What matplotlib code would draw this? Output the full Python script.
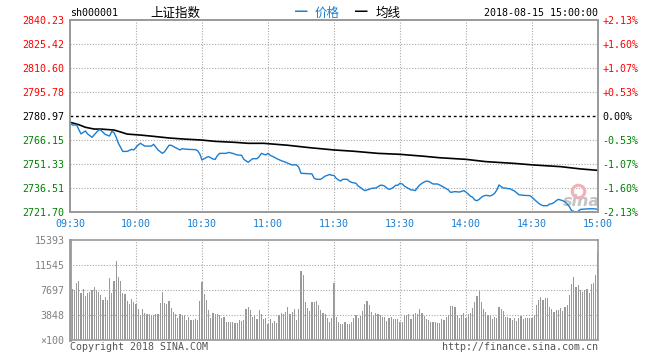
import numpy as np
import matplotlib
matplotlib.use('Agg')
import matplotlib.pyplot as plt

W, H = 660, 360

# axis labels
price_ticks = [2721.70, 2736.51, 2751.33, 2766.15, 2780.97, 2795.78, 2810.60, 2825.42, 2840.23]
pct_labels = ['-2.13%', '-1.60%', '-1.07%', '-0.53%', '0.00%', '+0.53%', '+1.07%', '+1.60%', '+2.13%']
prev_close = 2780.97
time_ticks = [0, 30, 60, 90, 120, 150, 180, 210, 240]
time_labels = ['09:30', '10:00', '10:30', '11:00', '11:30', '13:30', '14:00', '14:30', '15:00']
vol_ticks = [0, 3848, 7697, 11545, 15393]
vol_labels = ['×100', '3848', '7697', '11545', '15393']

# price line (minute index from 09:30, price)
price_min = [0, 1, 3, 5, 7, 8, 10, 13, 14, 16, 18, 19, 20, 21, 22, 23, 24, 26, 28, 29,
             31, 32, 34, 37, 38, 40, 42, 43, 45, 46, 48, 50, 51, 53, 57, 58, 59, 60, 62, 63,
             65, 66, 67, 68, 71, 72, 74, 76, 78, 79, 81, 83, 85, 86, 87, 89, 90, 91, 93, 94,
             96, 98, 100, 101, 102, 103, 104, 105, 110, 111, 112, 114, 115, 116, 117, 118, 119, 120, 121, 122,
             123, 124, 126, 127, 128, 130, 131, 132, 133, 134, 136, 137, 139, 140, 141, 142, 143, 144, 145, 146,
             147, 148, 149, 150, 151, 152, 153, 154, 155, 156, 157, 158, 159, 160, 161, 162, 163, 164, 165, 167,
             168, 169, 170, 171, 172, 173, 175, 177, 179, 180, 181, 182, 183, 184, 185, 186, 187, 188, 189, 191,
             192, 193, 194, 195, 196, 197, 198, 199, 200, 201, 202, 203, 204, 206, 209, 210, 211, 212, 213, 214,
             215, 217, 218, 219, 220, 221, 222, 223, 224, 225, 226, 227, 228, 229, 230, 231, 232, 234, 236, 238,
             239, 240]
price_val = [2777.3, 2775.4, 2775.4, 2769.9, 2771.7, 2769.9, 2767.8, 2772.3, 2772.3, 2769.6, 2768.6, 2771.5, 2770.7, 2767.8, 2764.1, 2761.6, 2759.1, 2759.1, 2760.4, 2760.0,
             2763.1, 2764.1, 2762.4, 2762.4, 2763.5, 2760.0, 2757.9, 2758.9, 2762.9, 2762.9, 2761.4, 2760.0, 2760.8, 2760.4, 2760.2, 2759.6, 2757.5, 2753.8, 2755.4, 2755.9,
             2754.4, 2754.2, 2756.5, 2757.9, 2757.9, 2758.5, 2757.9, 2756.9, 2756.7, 2754.2, 2752.4, 2754.6, 2754.6, 2755.9, 2757.9, 2756.9, 2757.9, 2756.7, 2755.4, 2754.6,
             2753.4, 2752.4, 2751.3, 2750.7, 2750.9, 2750.7, 2749.3, 2745.6, 2745.2, 2742.5, 2741.9, 2741.9, 2742.9, 2743.9, 2744.3, 2744.9, 2744.3, 2744.3, 2742.5, 2741.5,
             2740.8, 2741.9, 2741.9, 2740.6, 2740.0, 2739.4, 2737.7, 2736.9, 2735.7, 2734.9, 2735.7, 2736.3, 2736.5, 2737.3, 2738.2, 2738.2, 2737.7, 2736.5, 2735.7, 2736.1,
             2736.9, 2738.2, 2738.2, 2739.4, 2739.0, 2737.7, 2736.9, 2736.1, 2735.3, 2735.3, 2734.9, 2736.9, 2738.4, 2739.4, 2740.2, 2740.8, 2740.6, 2739.8, 2739.0, 2739.0,
             2738.4, 2737.7, 2736.9, 2736.1, 2735.3, 2733.8, 2734.3, 2734.0, 2734.9, 2734.0, 2732.8, 2731.5, 2730.8, 2729.1, 2728.7, 2729.5, 2730.8, 2731.6, 2732.0, 2731.6,
             2732.2, 2733.2, 2735.3, 2738.4, 2737.3, 2736.5, 2736.5, 2736.1, 2736.1, 2735.3, 2734.7, 2733.6, 2732.4, 2732.0, 2731.8, 2730.8, 2729.5, 2728.3, 2727.1, 2726.2,
             2725.6, 2725.6, 2726.6, 2726.8, 2727.5, 2728.7, 2729.5, 2729.1, 2728.7, 2727.9, 2726.6, 2725.0, 2722.5, 2722.1, 2721.7, 2722.1, 2723.3, 2723.5, 2723.7, 2723.7,
             2723.5, 2723.3]

# average line
avg_min = [0, 4, 7, 11, 14, 20, 23, 26, 32, 38, 45, 51, 60, 66, 75, 81, 88, 99, 109, 120,
           129, 140, 150, 161, 168, 180, 189, 202, 211, 223, 232, 240]
avg_val = [2777.1, 2775.6, 2774.0, 2772.9, 2772.9, 2772.3, 2771.1, 2769.8, 2769.2, 2768.4, 2767.4, 2766.8, 2766.1, 2765.3, 2764.7, 2764.1, 2764.1, 2762.9, 2761.4, 2760.0,
           2759.2, 2757.9, 2757.3, 2756.1, 2755.2, 2754.2, 2752.8, 2751.7, 2750.7, 2749.7, 2748.3, 2747.4]

# volume per minute (x100)
volume = [9030, 7900, 7695, 8820, 9130, 7280, 7900, 6820, 7280, 7440, 7695, 8210, 7695, 7440, 6870, 6200,
          6670, 6200, 9590, 7180, 9130, 12210, 9750, 9030, 7280, 7030, 6050, 5590, 6360, 5900, 5590,
          4720, 3850, 4820, 4210, 3950, 4050, 3850, 3850, 4050, 4050, 5750, 7440, 5750, 5590, 6050,
          4980, 4360, 3950, 3440, 4050, 3850, 3850, 3130, 3590, 3130, 3130, 3230, 3130, 6050, 8980,
          7130, 6100, 4670, 3440, 4210, 4050, 4050, 3800, 3440, 3590, 2820, 2820, 2820, 2820, 2670,
          2670, 3130, 2920, 3130, 4820, 5130, 4670, 3590, 3900, 3280, 4670, 3950, 3280, 3440, 2510,
          3280, 2670, 2920, 2670, 3850, 4210, 4050, 4360, 5130, 4050, 4360, 4820, 3130, 4820, 10670,
          10050, 5900, 4980, 4510, 5900, 5900, 6050, 5440, 4670, 4210, 4050, 3440, 2820, 3440, 8820,
          3590, 2820, 2510, 2510, 2820, 2510, 2510, 2820, 3440, 3900, 3440, 3740, 4510, 5590, 6000,
          5440, 4360, 3900, 4210, 4050, 3850, 3590, 3590, 2980, 3440, 3590, 3280, 3280, 3280, 2820,
          2820, 3900, 3900, 4050, 3280, 4050, 4210, 4050, 4820, 4210, 3740, 3280, 3130, 2820, 2820,
          2820, 2670, 2670, 3280, 3130, 3590, 3900, 5280, 5280, 5130, 3850, 3440, 3900, 4210, 3440,
          4050, 4210, 4980, 5900, 6820, 7590, 5900, 4820, 4360, 3900, 3900, 3280, 3590, 3440, 5130,
          4820, 4510, 3590, 3590, 3440, 3130, 3440, 2980, 3440, 3740, 3280, 3440, 3440, 3440, 3440,
          3900, 5440, 6200, 6670, 6200, 6510, 6510, 5130, 4820, 4360, 4670, 4670, 4980, 4510, 5130,
          5440, 6970, 8670, 9750, 8210, 8520, 7750, 7440, 7750, 7900, 7280, 8670, 8820, 10050, 13550]

mono = 'DejaVu Sans Mono'
cjk = ['Noto Sans CJK SC', 'DejaVu Sans']
blue = '#1a7ed2'
red = '#ff0000'
green = '#008000'
grey = '#a8a8a8'
fs = 7.2

fig = plt.figure(figsize=(W / 100, H / 100), dpi=100)
ax = fig.add_axes([70 / W, 1 - 212 / H, 528 / W, 192 / H])
axv = fig.add_axes([70 / W, 1 - 340 / H, 528 / W, 100 / H])

dots = (0, (1, 1.5))

# price panel
for t in time_ticks[1:-1]:
    ax.axvline(t, color=grey, lw=0.8, ls=dots, zorder=1)
for p in price_ticks[1:-1]:
    if p != prev_close:
        ax.axhline(p, color=grey, lw=0.8, ls=dots, zorder=1)
ax.axhline(prev_close, color='black', lw=1, ls=(0, (2, 2)), zorder=2)

# sina watermark
ax.plot([0.962], [0.11], marker='o', ms=9, mfc='none', mec='#f4b0b6', mew=2.2,
        transform=ax.transAxes, zorder=2)
ax.text(0.968, 0.055, 'sina', transform=ax.transAxes, ha='center', va='center',
        fontsize=11.5, color='#c4c4c4', style='italic', fontweight='bold', zorder=2)

ax.plot(avg_min, avg_val, color='black', lw=1.2, zorder=3)
ax.plot(price_min, price_val, color=blue, lw=1, zorder=4)

ax.set_xlim(0, 240)
ax.set_ylim(price_ticks[0], price_ticks[-1])
ax.set_yticks(price_ticks)
ax.set_yticklabels(['%.2f' % p for p in price_ticks], fontfamily=mono, fontsize=fs)
for lab, p in zip(ax.get_yticklabels(), price_ticks):
    lab.set_color(red if p > prev_close else ('black' if p == prev_close else green))
ax.set_xticks(time_ticks)
ax.set_xticklabels(time_labels, fontfamily=mono, fontsize=fs, color=blue)
ax.tick_params(length=0, pad=4)
ax.tick_params(axis='x', pad=5)

ax2 = ax.twinx()
ax2.set_ylim(price_ticks[0], price_ticks[-1])
ax2.set_yticks(price_ticks)
ax2.set_yticklabels(pct_labels, fontfamily=mono, fontsize=fs)
for lab, p in zip(ax2.get_yticklabels(), price_ticks):
    lab.set_color(red if p > prev_close else ('black' if p == prev_close else green))
ax2.tick_params(length=0, pad=3)

for a in (ax, ax2, axv):
    for s in a.spines.values():
        s.set_color('#999999')
        s.set_linewidth(1.2)
axv.spines['left'].set_linewidth(2)

# volume panel
axv.bar(np.arange(len(volume)), volume, width=0.5, color='#999999', zorder=2)
for t in time_ticks[1:-1]:
    axv.axvline(t, color=grey, lw=0.8, ls=dots, zorder=3)
for v in vol_ticks[1:-1]:
    axv.axhline(v, color=grey, lw=0.8, ls=dots, zorder=3)
axv.set_xlim(0, 240)
axv.set_ylim(0, vol_ticks[-1])
axv.set_xticks([])
axv.set_yticks(vol_ticks)
axv.set_yticklabels(vol_labels, fontfamily=mono, fontsize=fs, color='#808080')
axv.tick_params(length=0, pad=4)

# header and footer
fig.text(70 / W, 1 - 13 / H, 'sh000001', fontfamily=mono, fontsize=fs, va='center')
fig.text(150 / W, 1 - 13 / H, '上证指数', family=cjk, fontsize=9, va='center')
fig.text(295 / W, 1 - 13 / H, '━', family=cjk, fontsize=9, va='center', color=blue)
fig.text(315 / W, 1 - 13 / H, '价格', family=cjk, fontsize=9, va='center', color=blue)
fig.text(355 / W, 1 - 13 / H, '━', family=cjk, fontsize=9, va='center', color='black')
fig.text(376 / W, 1 - 13 / H, '均线', family=cjk, fontsize=9, va='center')
fig.text(598 / W, 1 - 13 / H, '2018-08-15 15:00:00', fontfamily=mono, fontsize=fs,
         va='center', ha='right')
fig.text(70 / W, 1 - 347 / H, 'Copyright 2018 SINA.COM', fontfamily=mono, fontsize=fs,
         va='center', color='#555555')
fig.text(598 / W, 1 - 347 / H, 'http://finance.sina.com.cn', fontfamily=mono, fontsize=fs,
         va='center', ha='right', color='#555555')

fig.savefig('out.png', dpi=100)
